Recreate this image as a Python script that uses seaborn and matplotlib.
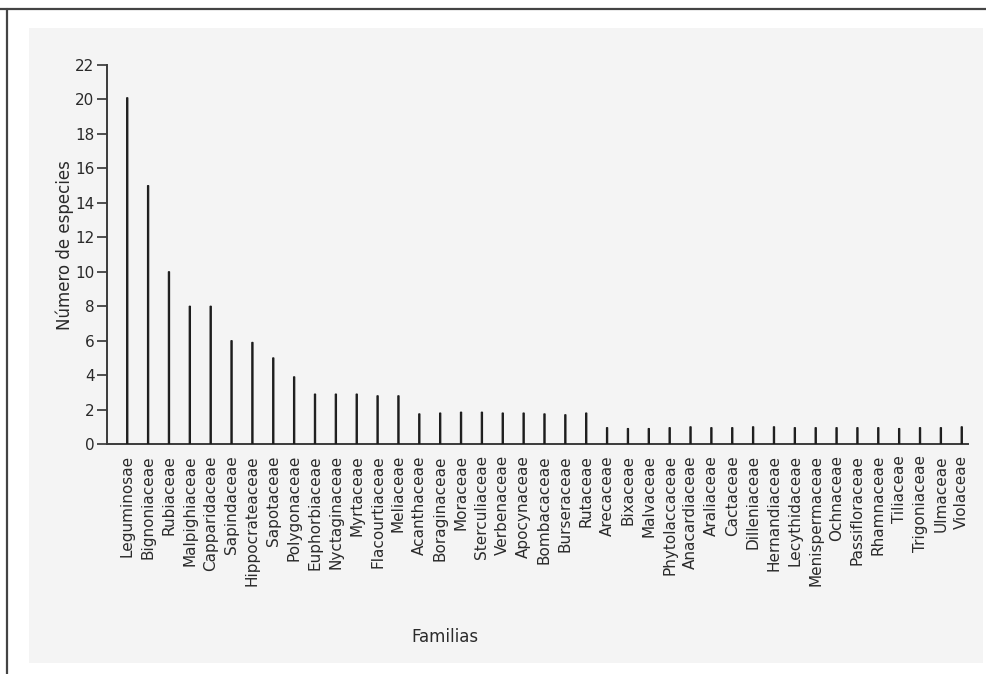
import matplotlib
matplotlib.use("Agg")
import matplotlib.pyplot as plt
from matplotlib.patches import Rectangle
from matplotlib.lines import Line2D
import seaborn as sns
import pandas as pd

familias = [
    "Leguminosae", "Bignoniaceae", "Rubiaceae", "Malpighiaceae", "Capparidaceae",
    "Sapindaceae", "Hippocrateaceae", "Sapotaceae", "Polygonaceae", "Euphorbiaceae",
    "Nyctaginaceae", "Myrtaceae", "Flacourtiaceae", "Meliaceae", "Acanthaceae",
    "Boraginaceae", "Moraceae", "Sterculiaceae", "Verbenaceae", "Apocynaceae",
    "Bombacaceae", "Burseraceae", "Rutaceae", "Arecaceae", "Bixaceae",
    "Malvaceae", "Phytolaccaceae", "Anacardiaceae", "Araliaceae", "Cactaceae",
    "Dilleniaceae", "Hernandiaceae", "Lecythidaceae", "Menispermaceae", "Ochnaceae",
    "Passifloraceae", "Rhamnaceae", "Tiliaceae", "Trigoniaceae", "Ulmaceae",
    "Violaceae",
]
especies = [
    20.1, 15, 10, 8, 8,
    6, 5.9, 5, 3.9, 2.9,
    2.9, 2.9, 2.8, 2.8, 1.75,
    1.8, 1.85, 1.85, 1.8, 1.8,
    1.75, 1.7, 1.8, 0.95, 0.9,
    0.9, 0.95, 1.0, 0.95, 0.95,
    1.0, 1.0, 0.95, 0.95, 0.95,
    0.95, 0.95, 0.9, 0.95, 0.95,
    1.0,
]
yticks = list(range(0, 23, 2))

df = pd.DataFrame({"Familia": familias, "Especies": especies})

sns.set_theme(style="white")
plt.rcParams["font.family"] = ["DejaVu Sans"]

W, H = 987, 674
fig = plt.figure(figsize=(W / 100, H / 100), dpi=100)
fig.patch.set_facecolor("white")

# scanned-page background and frame
fig.add_artist(Rectangle((29 / W, 1 - 663 / H), (983 - 29) / W, (663 - 28) / H,
                         transform=fig.transFigure, facecolor="#f4f4f4",
                         edgecolor="none", zorder=-10))
fig.add_artist(Line2D([0, 1], [1 - 8.5 / H, 1 - 8.5 / H], transform=fig.transFigure,
                      color="#444444", lw=1.6, zorder=10))
fig.add_artist(Line2D([7 / W, 7 / W], [0, 1 - 8.5 / H], transform=fig.transFigure,
                      color="#444444", lw=1.6, zorder=10))

left, right = 107 / W, 968 / W
bottom, top = 1 - 444 / H, 1 - 65 / H
ax = fig.add_axes([left, bottom, right - left, top - bottom])
ax.set_facecolor("none")

sns.barplot(data=df, x="Familia", y="Especies", color="#1c1c1c", width=0.06,
            saturation=1, ax=ax, zorder=3)
for p in ax.patches:
    p.set_edgecolor("#1c1c1c")
    p.set_linewidth(0.8)
    p.set_snap(False)

ax.set_xlim(-0.97, 40.3)
ax.set_ylim(0, 22)
ax.set_yticks(yticks)
ax.set_yticklabels([str(t) for t in yticks], fontsize=11, color="#2a2a2a")
ax.tick_params(axis="y", direction="out", length=7, width=1.2, color="#333333", pad=2, left=True)
ax.tick_params(axis="x", length=0, pad=8)
for lab in ax.get_xticklabels():
    lab.set_rotation(90)
    lab.set_fontsize(11)
    lab.set_color("#2a2a2a")
    lab.set_va("top")
    lab.set_ha("center")

for s in ["top", "right"]:
    ax.spines[s].set_visible(False)
for s in ["left", "bottom"]:
    ax.spines[s].set_color("#3a3a3a")
    ax.spines[s].set_linewidth(1.4)

ax.set_xlabel("")
ax.set_ylabel("")
fig.text(65 / W, 1 - 245 / H, "Número de especies", rotation=90, ha="center",
         va="center", fontsize=12, color="#2a2a2a")
fig.text(445 / W, 1 - 637 / H, "Familias", ha="center", va="center",
         fontsize=12, color="#2a2a2a")

fig.savefig("out.png", dpi=100)
